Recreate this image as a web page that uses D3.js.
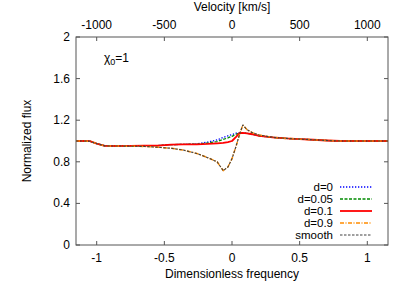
<!DOCTYPE html>
<html lang="en">
<head>
<meta charset="UTF-8" />
<title>Normalized flux</title>
<script src="https://d3js.org/d3.v7.min.js"></script>
<style>
  body { margin: 0; background: #fff; }
  svg { display: block; font-family: "Liberation Sans", Arial, sans-serif; }
  .tick-label { font-size: 12px; fill: #000; }
  .legend-label { font-size: 11.5px; fill: #000; }
</style>
</head>
<body>
<svg id="chart" width="407" height="285"></svg>
<script>
// --- Daten ---
const freq = [-1.153, -1.1, -1.05, -1.0, -0.94, -0.85, -0.75, -0.65, -0.55, -0.45, -0.36, -0.26, -0.18, -0.11, -0.065, -0.03, 0.0, 0.03, 0.055, 0.08, 0.11, 0.15, 0.2, 0.3, 0.4, 0.5, 0.6, 0.7, 0.8, 0.9, 1.0, 1.1, 1.153];
const fluxD0 =     [1.0, 1.0, 0.998, 0.975, 0.953, 0.952, 0.953, 0.955, 0.956, 0.965, 0.968, 0.972, 0.99, 1.01, 1.035, 1.05, 1.062, 1.075, 1.08, 1.078, 1.074, 1.065, 1.05, 1.035, 1.025, 1.018, 1.012, 1.005, 1.0, 1.0, 1.0, 1.0, 1.0];
const fluxD005 =   [1.0, 1.0, 0.998, 0.975, 0.953, 0.952, 0.953, 0.955, 0.956, 0.965, 0.968, 0.97, 0.98, 0.995, 1.015, 1.03, 1.045, 1.065, 1.078, 1.078, 1.074, 1.065, 1.05, 1.035, 1.025, 1.018, 1.012, 1.005, 1.0, 1.0, 1.0, 1.0, 1.0];
const fluxD01 =    [1.0, 1.0, 0.998, 0.975, 0.953, 0.952, 0.953, 0.955, 0.956, 0.965, 0.968, 0.968, 0.972, 0.978, 0.982, 0.99, 1.0, 1.04, 1.075, 1.078, 1.074, 1.065, 1.05, 1.035, 1.025, 1.018, 1.012, 1.005, 1.0, 1.0, 1.0, 1.0, 1.0];
const fluxD09 =    [1.0, 1.0, 0.998, 0.975, 0.953, 0.952, 0.95, 0.948, 0.94, 0.93, 0.913, 0.88, 0.84, 0.80, 0.715, 0.75, 0.83, 0.95, 1.06, 1.154, 1.11, 1.08, 1.058, 1.035, 1.025, 1.018, 1.012, 1.005, 1.0, 1.0, 1.0, 1.0, 1.0];
const fluxSmooth = [1.0, 1.0, 0.998, 0.975, 0.953, 0.952, 0.95, 0.948, 0.94, 0.93, 0.913, 0.88, 0.84, 0.80, 0.715, 0.75, 0.83, 0.95, 1.06, 1.154, 1.11, 1.08, 1.058, 1.035, 1.025, 1.018, 1.012, 1.005, 1.0, 1.0, 1.0, 1.0, 1.0];

const seriesNames = ["d=0", "d=0.05", "d=0.1", "d=0.9", "smooth"];
const seriesValues = [fluxD0, fluxD005, fluxD01, fluxD09, fluxSmooth];
const seriesStyles = [
  { color: "#0000ff", width: 1.3, dash: "1.3,1.7" },
  { color: "#008b00", width: 1.3, dash: "3,1.5" },
  { color: "#ff0000", width: 1.8, dash: null },
  { color: "#ff8c00", width: 1.5, dash: "4,1.5,1,1.5" },
  { color: "#404040", width: 1.1, dash: "2.5,1.5" }
];

const xTicks = [-1, -0.5, 0, 0.5, 1];
const vTicks = [-1000, -500, 0, 500, 1000];
const yTicks = [0, 0.4, 0.8, 1.2, 1.6, 2];

// --- Aufbau ---
const svg = d3.select("#chart");
const pLeft = 76, pRight = 388, pTop = 37, pBottom = 245;

const x = d3.scaleLinear().domain([-1.153, 1.153]).range([pLeft, pRight]);
const xv = d3.scaleLinear().domain([-1153, 1153]).range([pLeft, pRight]);
const y = d3.scaleLinear().domain([0, 2]).range([pBottom, pTop]);

const frameColor = "#555";
const tickLen = 4;

// Kurven (zuerst, Rahmen danach drüber)
const line = d3.line().x(d => x(d[0])).y(d => y(d[1]));
const plotG = svg.append("g");
seriesValues.forEach((vals, i) => {
  const st = seriesStyles[i];
  plotG.append("path")
    .datum(freq.map((f, k) => [f, vals[k]]))
    .attr("fill", "none")
    .attr("stroke", st.color)
    .attr("stroke-width", st.width)
    .attr("stroke-dasharray", st.dash)
    .attr("stroke-linejoin", "round")
    .attr("d", line);
});

// Rahmen
svg.append("rect")
  .attr("x", pLeft).attr("y", pTop)
  .attr("width", pRight - pLeft).attr("height", pBottom - pTop)
  .attr("fill", "none").attr("stroke", frameColor).attr("stroke-width", 1);

// Ticks unten (Frequenz)
xTicks.forEach(t => {
  svg.append("line").attr("x1", x(t)).attr("x2", x(t))
    .attr("y1", pBottom).attr("y2", pBottom - tickLen)
    .attr("stroke", frameColor);
  svg.append("text").attr("class", "tick-label")
    .attr("x", x(t)).attr("y", pBottom + 17)
    .attr("text-anchor", "middle").text(t);
});

// Ticks oben (Geschwindigkeit)
vTicks.forEach(t => {
  svg.append("line").attr("x1", xv(t)).attr("x2", xv(t))
    .attr("y1", pTop).attr("y2", pTop + tickLen)
    .attr("stroke", frameColor);
  svg.append("text").attr("class", "tick-label")
    .attr("x", xv(t)).attr("y", pTop - 8)
    .attr("text-anchor", "middle").text(t);
});

// Ticks links und rechts
yTicks.forEach(t => {
  svg.append("line").attr("x1", pLeft).attr("x2", pLeft + tickLen)
    .attr("y1", y(t)).attr("y2", y(t)).attr("stroke", frameColor);
  svg.append("line").attr("x1", pRight).attr("x2", pRight - tickLen)
    .attr("y1", y(t)).attr("y2", y(t)).attr("stroke", frameColor);
  svg.append("text").attr("class", "tick-label")
    .attr("x", pLeft - 6).attr("y", y(t) + 4)
    .attr("text-anchor", "end").text(t);
});

// Achsentitel
svg.append("text").attr("class", "tick-label")
  .attr("x", (pLeft + pRight) / 2).attr("y", 11)
  .attr("text-anchor", "middle").text("Velocity [km/s]");
svg.append("text").attr("class", "tick-label")
  .attr("x", (pLeft + pRight) / 2).attr("y", 278)
  .attr("text-anchor", "middle").text("Dimensionless frequency");
svg.append("text").attr("class", "tick-label")
  .attr("transform", `translate(31,${(pTop + pBottom) / 2}) rotate(-90)`)
  .attr("text-anchor", "middle").text("Normalized flux");

// chi_0 = 1
const chi = svg.append("text").attr("class", "tick-label")
  .attr("x", 104).attr("y", 62);
chi.append("tspan").text("χ");
chi.append("tspan").attr("dy", 3).attr("font-size", 9).text("0");
chi.append("tspan").attr("dy", -3).text("=1");

// Legende
const legY0 = 187, legStep = 12;
seriesNames.forEach((name, i) => {
  const st = seriesStyles[i];
  const ly = legY0 + i * legStep;
  svg.append("text").attr("class", "legend-label")
    .attr("x", 333).attr("y", ly + 4)
    .attr("text-anchor", "end").text(name);
  svg.append("line")
    .attr("x1", 340).attr("x2", 372)
    .attr("y1", ly).attr("y2", ly)
    .attr("stroke", st.color)
    .attr("stroke-width", st.width)
    .attr("stroke-dasharray", st.dash);
});
</script>
</body>
</html>
